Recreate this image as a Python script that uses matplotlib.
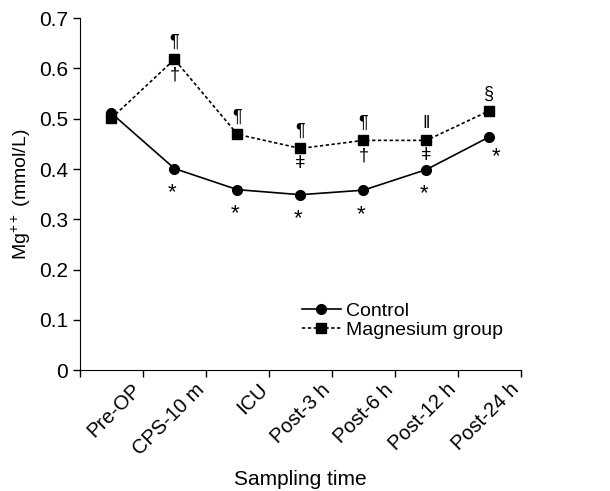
import numpy as np
import matplotlib.pyplot as plt
from matplotlib.transforms import ScaledTranslation

plt.rcParams['font.family'] = ['Liberation Sans', 'DejaVu Sans']
plt.rcParams['mathtext.fontset'] = 'custom'
plt.rcParams['mathtext.rm'] = 'Liberation Sans'
plt.rcParams['mathtext.it'] = 'Liberation Sans'

# data
times = ['Pre-OP', 'CPS-10 m', 'ICU', 'Post-3 h', 'Post-6 h', 'Post-12 h', 'Post-24 h']
control = [0.511, 0.401, 0.359, 0.349, 0.358, 0.399, 0.464]
magnesium = [0.501, 0.618, 0.469, 0.441, 0.457, 0.457, 0.516]
mg_above = ['', '¶', '¶', '¶', '¶', '‖', '§']
mg_below = ['', '†', '', 'ǂ', '†', 'ǂ', '']
ctrl_marks = ['', '*', '*', '*', '*', '*', '*']

x = np.arange(len(times)) + 0.5

fig = plt.figure(figsize=(6.1, 4.91), dpi=100)
ax = fig.add_axes([0.131, 0.246, 0.723, 0.717])

ax.plot(x, control, '-', color='black', lw=1.2, marker='o', ms=7, label='Control')
ax.plot(x, magnesium, color='black', lw=1.2, ls=(0, (2, 1.5)), marker='s', ms=6.5,
        label='Magnesium group')

# significance marks
for i in range(len(times)):
    if mg_above[i]:
        ax.annotate(mg_above[i], (x[i], magnesium[i]), xytext=(0, 6), textcoords='offset points',
                    ha='center', va='bottom', fontsize=13)
    if mg_below[i]:
        ax.annotate(mg_below[i], (x[i], magnesium[i]), xytext=(0, -5), textcoords='offset points',
                    ha='center', va='top', fontsize=13)
    if ctrl_marks[i]:
        off = (5, -7) if i == len(times) - 1 else (-2, -10)
        ax.annotate(ctrl_marks[i], (x[i], control[i]), xytext=off, textcoords='offset points',
                    ha='center', va='top', fontsize=16)

ax.set_xlim(0, 7)
ax.set_ylim(0, 0.7)
ax.set_yticks([0, 0.1, 0.2, 0.3, 0.4, 0.5, 0.6, 0.7])
ax.set_yticklabels(['0', '0.1', '0.2', '0.3', '0.4', '0.5', '0.6', '0.7'])
ax.set_xticks(np.arange(8))
ax.set_xticklabels([])
ax.set_xticks(x, minor=True)
ax.set_xticklabels(times, minor=True, rotation=45, ha='right', rotation_mode='anchor')
ax.tick_params(axis='x', which='minor', length=0, pad=7)
ax.tick_params(axis='both', which='major', direction='out', length=5, width=1, labelsize=15)
ax.tick_params(axis='x', which='minor', labelsize=14.5)
for lab in ax.get_xticklabels(minor=True):
    lab.set_transform(lab.get_transform() + ScaledTranslation(0.2, 0, fig.dpi_scale_trans))

ax.spines['top'].set_visible(False)
ax.spines['right'].set_visible(False)

ax.set_xlabel('Sampling time', fontsize=15, labelpad=8)
ax.set_ylabel(r'Mg$^{++}$ (mmol/L)', fontsize=14)

ax.legend(loc='lower right', bbox_to_anchor=(1.0, 0.04), frameon=False, fontsize=14,
          handlelength=2.0, handletextpad=0.3, labelspacing=0.05)

fig.savefig('out.png', dpi=100)
